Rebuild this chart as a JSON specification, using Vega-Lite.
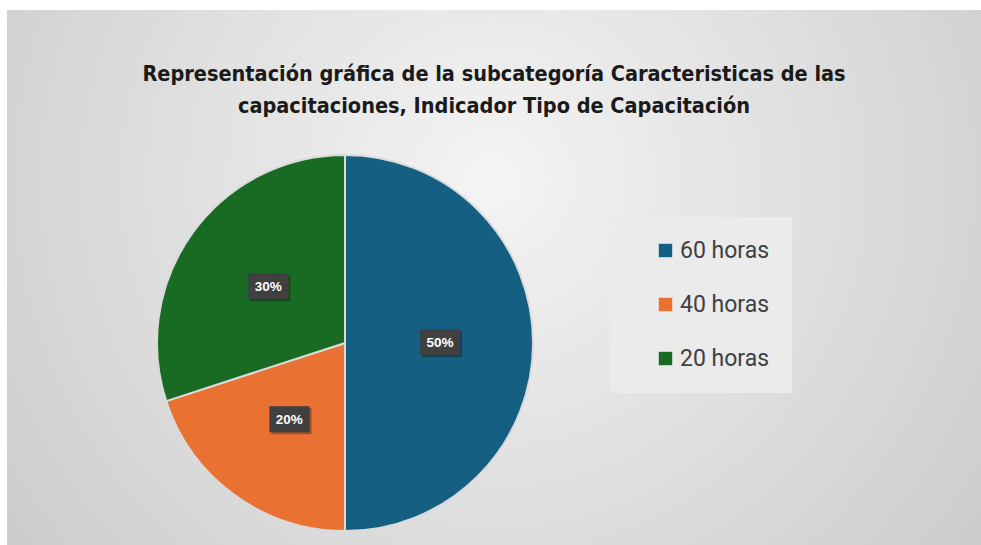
{
  "$schema": "https://vega.github.io/schema/vega-lite/v6.json",
  "width": 974,
  "height": 535,
  "autosize": "none",
  "padding": {"left": 7, "top": 10, "right": 0, "bottom": 0},
  "background": "white",
  "view": {
    "stroke": null,
    "fill": {
      "gradient": "radial",
      "x1": 0.5, "y1": 0.4, "r1": 0,
      "x2": 0.5, "y2": 0.4, "r2": 0.75,
      "stops": [
        {"offset": 0, "color": "#f4f4f4"},
        {"offset": 1, "color": "#c4c4c4"}
      ]
    }
  },
  "title": {
    "text": [
      "Representación gráfica de la subcategoría Caracteristicas de las",
      "capacitaciones, Indicador Tipo de Capacitación"
    ],
    "font": "'Liberation Sans Narrow', 'DejaVu Sans Condensed', 'Roboto Condensed', sans-serif",
    "fontSize": 21.5,
    "fontWeight": "bold",
    "color": "#1a1a1a",
    "anchor": "middle",
    "frame": "group",
    "baseline": "alphabetic",
    "offset": -124,
    "lineHeight": 32
  },
  "data": {
    "values": [
      {"tipo": "60 horas", "porcentaje": 50, "orden": 1, "etiqueta": "50%"},
      {"tipo": "40 horas", "porcentaje": 20, "orden": 2, "etiqueta": "20%"},
      {"tipo": "20 horas", "porcentaje": 30, "orden": 3, "etiqueta": "30%"}
    ]
  },
  "encoding": {
    "x": {"value": 338},
    "y": {"value": 333},
    "theta": {"field": "porcentaje", "type": "quantitative", "stack": true},
    "order": {"field": "orden", "type": "quantitative"}
  },
  "layer": [
    {
      "mark": {"type": "arc", "outerRadius": 188, "stroke": "#dadada", "strokeWidth": 2},
      "encoding": {
        "color": {
          "field": "tipo",
          "type": "nominal",
          "scale": {
            "domain": ["60 horas", "40 horas", "20 horas"],
            "range": ["#156082", "#E97132", "#196B24"]
          },
          "legend": {
            "orient": "none",
            "legendX": 603,
            "legendY": 207,
            "title": null,
            "fillColor": "#ebebeb",
            "padding": 22,
            "symbolType": "square",
            "symbolSize": 180,
            "symbolStrokeWidth": 0,
            "labelFont": "Roboto",
            "labelFontSize": 23,
            "labelColor": "#404040",
            "rowPadding": 30,
            "symbolOffset": 22,
            "labelOffset": 3
          }
        }
      }
    },
    {
      "mark": {"type": "text", "radius": 95, "text": "███", "font": "DejaVu Sans Mono", "fontSize": 22, "color": "#000000", "opacity": 0.3, "dx": 2, "dy": 2}
    },
    {
      "mark": {"type": "text", "radius": 95, "text": "███", "font": "DejaVu Sans Mono", "fontSize": 22, "color": "#404040"}
    },
    {
      "mark": {"type": "text", "radius": 95, "font": "Liberation Sans", "fontWeight": "bold", "fontSize": 13.5, "color": "#ffffff"},
      "encoding": {"text": {"field": "etiqueta"}}
    }
  ]
}
